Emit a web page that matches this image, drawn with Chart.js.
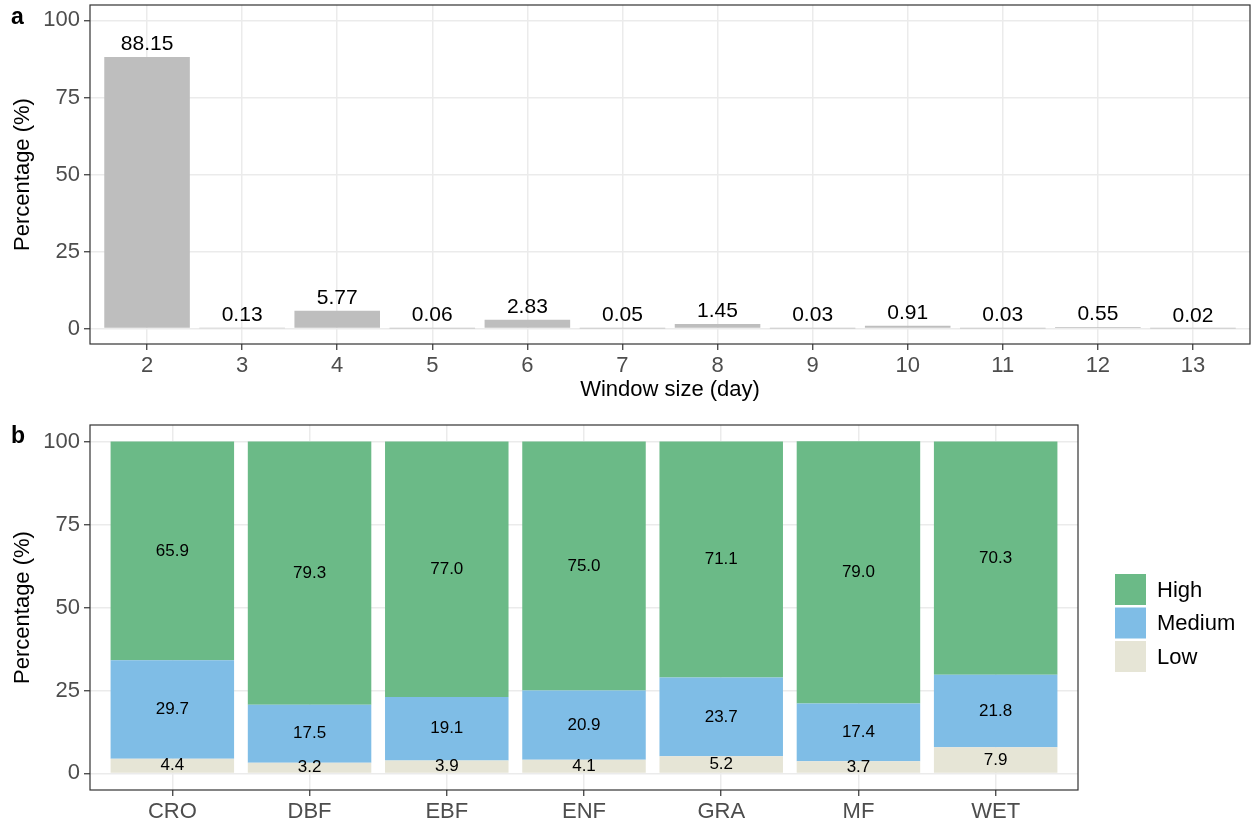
<!DOCTYPE html>
<html>
<head>
<meta charset="utf-8">
<script src="https://cdn.jsdelivr.net/npm/chart.js@4/dist/chart.umd.min.js"></script>
<style>
  html, body { margin: 0; padding: 0; background: #ffffff; }
  #wrap { position: relative; width: 1252px; height: 822px; overflow: hidden; }
  canvas { position: absolute; left: 0; }
  #cA { top: 0; }
  #cB { top: 415px; }
</style>
</head>
<body>
<div id="wrap">
  <canvas id="cA" width="1252" height="415"></canvas>
  <canvas id="cB" width="1252" height="407"></canvas>
</div>
<script>
// ---- Panel a: share of events by window size ----
const windowSizes = [2, 3, 4, 5, 6, 7, 8, 9, 10, 11, 12, 13];
const windowPct = [88.15, 0.13, 5.77, 0.06, 2.83, 0.05, 1.45, 0.03, 0.91, 0.03, 0.55, 0.02];

// ---- Panel b: High / Medium / Low share by land-cover type ----
const coverTypes = ['CRO', 'DBF', 'EBF', 'ENF', 'GRA', 'MF', 'WET'];
const highPct = [65.9, 79.3, 77.0, 75.0, 71.1, 79.0, 70.3];
const mediumPct = [29.7, 17.5, 19.1, 20.9, 23.7, 17.4, 21.8];
const lowPct = [4.4, 3.2, 3.9, 4.1, 5.2, 3.7, 7.9];
const levelNames = ['High', 'Medium', 'Low'];

const yTicks = [0, 25, 50, 75, 100];

const FONT = '"Liberation Sans", Arial, Helvetica, sans-serif';
const TICK_COLOR = '#4D4D4D';
const GRID_COLOR = '#EBEBEB';
const FRAME_COLOR = '#333333';
const COLORS = { High: '#6BBA87', Medium: '#7FBDE6', Low: '#E6E5D6' };

Chart.defaults.font.family = FONT;
Chart.defaults.color = TICK_COLOR;

// Frame around the plotting panel, like a bordered panel theme
const panelFrame = {
  id: 'panelFrame',
  afterDraw(chart) {
    const { ctx, chartArea: a } = chart;
    ctx.save();
    ctx.strokeStyle = FRAME_COLOR;
    ctx.lineWidth = 1.2;
    ctx.strokeRect(a.left, a.top, a.right - a.left, a.bottom - a.top);
    ctx.restore();
  }
};

function panelLetter(letter, x, y) {
  return {
    id: 'panelLetter',
    afterDraw(chart) {
      const ctx = chart.ctx;
      ctx.save();
      ctx.font = 'bold 23px ' + FONT;
      ctx.fillStyle = '#000';
      ctx.textAlign = 'left';
      ctx.textBaseline = 'alphabetic';
      ctx.fillText(letter, x, y);
      ctx.restore();
    }
  };
}

const gridStyle = { color: GRID_COLOR, lineWidth: 1.5, offset: false, drawTicks: true, tickLength: 6, tickColor: FRAME_COLOR, tickWidth: 1.2 };

function yAxis(opts) {
  return Object.assign({
    min: -5,
    max: 105,
    afterBuildTicks: s => { s.ticks = yTicks.map(v => ({ value: v })); },
    afterFit: s => { s.width = 90; s.paddingTop = 0; s.paddingBottom = 0; },
    grid: gridStyle,
    border: { display: false },
    ticks: { font: { size: 22 }, color: TICK_COLOR, padding: 4 },
    title: { display: true, text: 'Percentage (%)', color: '#000', font: { size: 22 }, padding: { top: 10, bottom: 0 } }
  }, opts || {});
}

// Value labels above each bar of panel a
const barValueLabels = {
  id: 'barValueLabels',
  afterDatasetsDraw(chart) {
    const { ctx } = chart;
    const meta = chart.getDatasetMeta(0);
    ctx.save();
    ctx.font = '21px ' + FONT;
    ctx.fillStyle = '#000';
    ctx.textAlign = 'center';
    ctx.textBaseline = 'alphabetic';
    meta.data.forEach((bar, i) => {
      ctx.fillText(windowPct[i].toFixed(2), bar.x, bar.y - 7);
    });
    ctx.restore();
  }
};

new Chart(document.getElementById('cA'), {
  type: 'bar',
  data: {
    datasets: [{
      label: 'Window size',
      data: windowSizes.map((w, i) => ({ x: w, y: windowPct[i] })),
      backgroundColor: '#BEBEBE',
      borderWidth: 0,
      barPercentage: 0.9,
      categoryPercentage: 1.0
    }]
  },
  options: {
    responsive: false,
    animation: false,
    devicePixelRatio: 1,
    layout: { padding: { left: 0, top: 5, right: 2, bottom: 0 } },
    plugins: { legend: { display: false }, tooltip: { enabled: false } },
    scales: {
      x: {
        type: 'linear',
        offset: false,
        min: windowSizes[0] - 0.6,
        max: windowSizes[windowSizes.length - 1] + 0.6,
        afterBuildTicks: s => { s.ticks = windowSizes.map(v => ({ value: v })); },
        afterFit: s => { s.height = 71; s.paddingLeft = 0; s.paddingRight = 0; },
        grid: gridStyle,
        border: { display: false },
        ticks: { font: { size: 22 }, color: TICK_COLOR, padding: 3, maxRotation: 0, autoSkip: false, callback: v => String(v) },
        title: { display: true, text: 'Window size (day)', color: '#000', font: { size: 22 }, padding: { top: 0, bottom: 12 } }
      },
      y: yAxis()
    }
  },
  plugins: [panelFrame, barValueLabels, panelLetter('a', 11, 24)]
});

// ---- Panel b ----
const stackSeries = [
  { name: 'Low', values: lowPct },
  { name: 'Medium', values: mediumPct },
  { name: 'High', values: highPct }
];

// Value labels centred within each stacked segment
const stackValueLabels = {
  id: 'stackValueLabels',
  afterDatasetsDraw(chart) {
    const { ctx } = chart;
    ctx.save();
    ctx.font = '17px ' + FONT;
    ctx.fillStyle = '#000';
    ctx.textAlign = 'center';
    ctx.textBaseline = 'middle';
    stackSeries.forEach((s, di) => {
      const meta = chart.getDatasetMeta(di);
      meta.data.forEach((bar, i) => {
        ctx.fillText(s.values[i].toFixed(1), bar.x, (bar.y + bar.base) / 2);
      });
    });
    ctx.restore();
  }
};

// Legend with square keys, to the right of the panel
const sideLegend = {
  id: 'sideLegend',
  afterDraw(chart) {
    const { ctx } = chart;
    const x0 = 1115, y0 = 159, key = 31, step = 33.5;
    ctx.save();
    ctx.font = '22px ' + FONT;
    ctx.textAlign = 'left';
    ctx.textBaseline = 'middle';
    levelNames.forEach((name, i) => {
      const y = y0 + i * step;
      ctx.fillStyle = COLORS[name];
      ctx.fillRect(x0, y, key, key);
      ctx.fillStyle = '#000';
      ctx.fillText(name, x0 + key + 11, y + key / 2 + 1);
    });
    ctx.restore();
  }
};

new Chart(document.getElementById('cB'), {
  type: 'bar',
  data: {
    datasets: stackSeries.map(s => ({
      label: s.name,
      data: coverTypes.map((t, i) => ({ x: i + 1, y: s.values[i] })),
      backgroundColor: COLORS[s.name],
      borderWidth: 0,
      barPercentage: 0.9,
      categoryPercentage: 1.0
    }))
  },
  options: {
    responsive: false,
    animation: false,
    devicePixelRatio: 1,
    layout: { padding: { left: 0, top: 10, right: 174, bottom: 0 } },
    plugins: { legend: { display: false }, tooltip: { enabled: false } },
    scales: {
      x: {
        type: 'linear',
        stacked: true,
        offset: false,
        min: 0.4,
        max: coverTypes.length + 0.6,
        afterBuildTicks: s => { s.ticks = coverTypes.map((t, i) => ({ value: i + 1 })); },
        afterFit: s => { s.height = 32; s.paddingLeft = 0; s.paddingRight = 0; },
        grid: gridStyle,
        border: { display: false },
        ticks: { font: { size: 22 }, color: TICK_COLOR, padding: 3, maxRotation: 0, autoSkip: false, callback: v => coverTypes[v - 1] }
      },
      y: yAxis({ stacked: true })
    }
  },
  plugins: [panelFrame, stackValueLabels, sideLegend, panelLetter('b', 11, 28)]
});
</script>
</body>
</html>
